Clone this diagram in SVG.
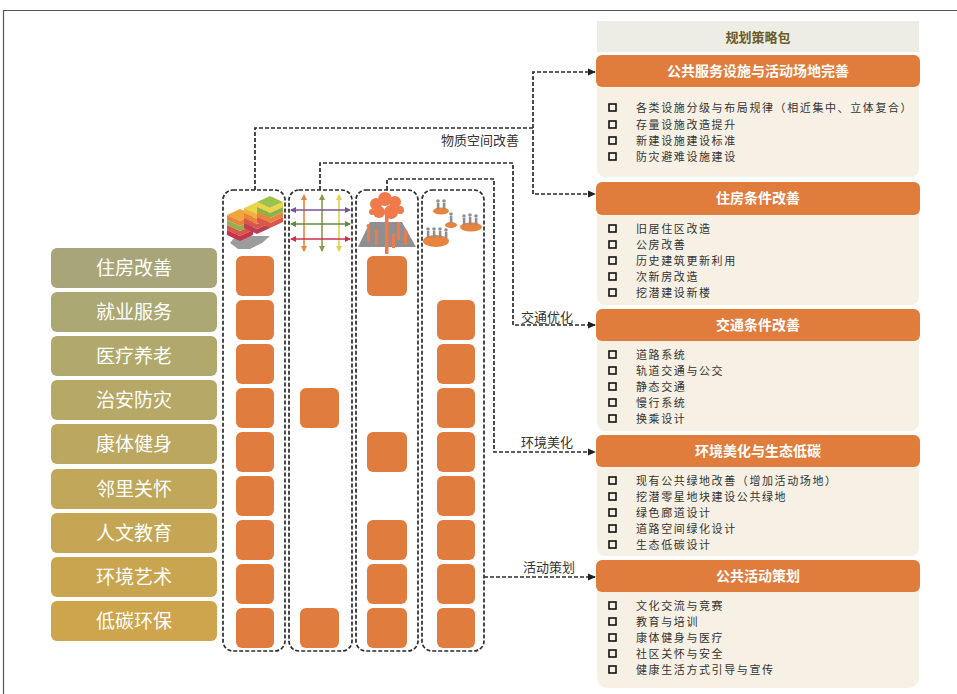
<svg xmlns="http://www.w3.org/2000/svg" width="957" height="694" viewBox="0 0 957 694">
  <defs>
    <marker id="arrow" markerWidth="8" markerHeight="8" refX="7" refY="4" orient="auto" markerUnits="userSpaceOnUse">
      <path d="M0,0.5 L8,4 L0,7.5 z" fill="#222"/>
    </marker>
    <marker id="ah-purple" markerWidth="6" markerHeight="6" refX="5" refY="3" orient="auto-start-reverse" markerUnits="userSpaceOnUse">
      <path d="M0,0 L6,3 L0,6 z" fill="#7b4f9a"/>
    </marker>
    <marker id="ah-green" markerWidth="6" markerHeight="6" refX="5" refY="3" orient="auto-start-reverse" markerUnits="userSpaceOnUse">
      <path d="M0,0 L6,3 L0,6 z" fill="#5e8a3c"/>
    </marker>
    <marker id="ah-red" markerWidth="6" markerHeight="6" refX="5" refY="3" orient="auto-start-reverse" markerUnits="userSpaceOnUse">
      <path d="M0,0 L6,3 L0,6 z" fill="#c8324a"/>
    </marker>
    <marker id="ah-orange" markerWidth="6" markerHeight="6" refX="5" refY="3" orient="auto-start-reverse" markerUnits="userSpaceOnUse">
      <path d="M0,0 L6,3 L0,6 z" fill="#e8843e"/>
    </marker>
    <marker id="ah-olive" markerWidth="6" markerHeight="6" refX="5" refY="3" orient="auto-start-reverse" markerUnits="userSpaceOnUse">
      <path d="M0,0 L6,3 L0,6 z" fill="#8a9a4a"/>
    </marker>
    <marker id="ah-yellow" markerWidth="6" markerHeight="6" refX="5" refY="3" orient="auto-start-reverse" markerUnits="userSpaceOnUse">
      <path d="M0,0 L6,3 L0,6 z" fill="#e3d14a"/>
    </marker>
  </defs>
  <style>
    text { font-family: "Noto Sans CJK SC", "Noto Sans", sans-serif; }
    .lbl { fill: #ffffff; font-size: 19px; text-anchor: middle; }
    .sq { fill: #e07c3e; }
    .col { fill: none; stroke: #2b2b2b; stroke-width: 1.7; stroke-dasharray: 4 2; }
    .conn { fill: none; stroke: #2b2b2b; stroke-width: 1.7; stroke-dasharray: 4 2; }
    .clbl { fill: #333; font-size: 13px; text-anchor: middle; }
    .hdr { fill: #e07d3d; }
    .body { fill: #f7f1e5; }
    .htxt { fill: #ffffff; font-size: 14px; font-weight: bold; text-anchor: middle; }
    .item { fill: #333; font-size: 11px; letter-spacing: 1.6px; }
    .cb { fill: none; stroke: #111; stroke-width: 1.6; }
  </style>

  <rect width="957" height="694" fill="#ffffff"/>
  <!-- frame -->
  <path d="M3.5,694 V10.5 H957" fill="none" stroke="#555" stroke-width="1.2"/>

  <!-- left labels -->
  <g id="labels">
    <g id="label-1"><rect x="51" y="248" width="166" height="40" rx="6" fill="#a8a679"/><text class="lbl" x="134" y="275">住房改善</text></g>
    <g id="label-2"><rect x="51" y="292" width="166" height="40" rx="6" fill="#aca873"/><text class="lbl" x="134" y="319">就业服务</text></g>
    <g id="label-3"><rect x="51" y="336" width="166" height="40" rx="6" fill="#b1a96c"/><text class="lbl" x="134" y="363">医疗养老</text></g>
    <g id="label-4"><rect x="51" y="380" width="166" height="40" rx="6" fill="#b6a866"/><text class="lbl" x="134" y="407">治安防灾</text></g>
    <g id="label-5"><rect x="51" y="424" width="166" height="40" rx="6" fill="#bba75f"/><text class="lbl" x="134" y="451">康体健身</text></g>
    <g id="label-6"><rect x="51" y="469" width="166" height="40" rx="6" fill="#c0a75a"/><text class="lbl" x="134" y="496">邻里关怀</text></g>
    <g id="label-7"><rect x="51" y="513" width="166" height="40" rx="6" fill="#c5a654"/><text class="lbl" x="134" y="540">人文教育</text></g>
    <g id="label-8"><rect x="51" y="557" width="166" height="40" rx="6" fill="#caa550"/><text class="lbl" x="134" y="584">环境艺术</text></g>
    <g id="label-9"><rect x="51" y="601" width="166" height="40" rx="6" fill="#cea44c"/><text class="lbl" x="134" y="628">低碳环保</text></g>
  </g>

  <!-- column 1: housing blocks -->
  <g id="col-housing">
    <rect class="col" x="223" y="190" width="62" height="461" rx="10"/>
    <!-- layered blocks icon -->
    <polygon points="236,236 270,236 262,243 250,249 238,249 230,243" fill="#9c9c9c"/>
    <g>
      <polygon points="227,215 240,209 253,215 240,221" fill="#f0a43a"/>
      <polygon points="227,215 240,221 253,215 253,220 240,226 227,220" fill="#e8843e"/>
      <polygon points="227,220 240,226 253,220 253,225 240,231 227,225" fill="#8fb04a"/>
      <polygon points="227,225 240,231 253,225 253,230 240,236 227,230" fill="#d9574a"/>
      <polygon points="227,230 240,236 253,230 253,235 240,241 227,235" fill="#c8324a"/>
    </g>
    <g>
      <polygon points="244,208 257,202 270,208 257,214" fill="#e9d54a"/>
      <polygon points="244,208 257,214 270,208 270,213 257,219 244,213" fill="#f0b03a"/>
      <polygon points="244,213 257,219 270,213 270,218 257,224 244,218" fill="#e8843e"/>
      <polygon points="244,218 257,224 270,218 270,223 257,229 244,223" fill="#d9574a"/>
      <polygon points="244,223 257,229 270,223 270,228 257,234 244,228" fill="#b84050"/>
    </g>
    <g>
      <polygon points="257,202 270,196 283,202 270,208" fill="#9cc24e"/>
      <polygon points="257,202 270,208 283,202 283,207 270,213 257,207" fill="#e9d54a"/>
      <polygon points="257,207 270,213 283,207 283,212 270,218 257,212" fill="#8fb04a"/>
      <polygon points="257,212 270,218 283,212 283,217 270,223 257,217" fill="#e8843e"/>
      <polygon points="257,217 270,223 283,217 283,222 270,228 257,222" fill="#d9574a"/>
    </g>
    <rect class="sq" x="236" y="256" width="38" height="40" rx="6"/>
    <rect class="sq" x="236" y="300" width="38" height="40" rx="6"/>
    <rect class="sq" x="236" y="344" width="38" height="40" rx="6"/>
    <rect class="sq" x="236" y="388" width="38" height="40" rx="6"/>
    <rect class="sq" x="236" y="432" width="38" height="40" rx="6"/>
    <rect class="sq" x="236" y="476" width="38" height="40" rx="6"/>
    <rect class="sq" x="236" y="520" width="38" height="40" rx="6"/>
    <rect class="sq" x="236" y="564" width="38" height="40" rx="6"/>
    <rect class="sq" x="236" y="608" width="38" height="40" rx="6"/>
  </g>

  <!-- column 2: traffic grid -->
  <g id="col-traffic">
    <rect class="col" x="289" y="190" width="63" height="461" rx="10"/>
    <line x1="304" y1="195" x2="304" y2="251" stroke="#e8843e" stroke-width="1.6" marker-start="url(#ah-orange)" marker-end="url(#ah-orange)"/>
    <line x1="322" y1="195" x2="322" y2="251" stroke="#8a9a4a" stroke-width="1.6" marker-start="url(#ah-olive)" marker-end="url(#ah-olive)"/>
    <line x1="339" y1="195" x2="339" y2="251" stroke="#e3d14a" stroke-width="1.6" marker-start="url(#ah-yellow)" marker-end="url(#ah-yellow)"/>
    <line x1="291" y1="210" x2="350" y2="210" stroke="#7b4f9a" stroke-width="1.6" marker-start="url(#ah-purple)" marker-end="url(#ah-purple)"/>
    <line x1="291" y1="224" x2="350" y2="224" stroke="#5e8a3c" stroke-width="1.6" marker-start="url(#ah-green)" marker-end="url(#ah-green)"/>
    <line x1="291" y1="239" x2="350" y2="239" stroke="#c8324a" stroke-width="1.6" marker-start="url(#ah-red)" marker-end="url(#ah-red)"/>
    <rect class="sq" x="300" y="388" width="39" height="40" rx="6"/>
    <rect class="sq" x="300" y="608" width="39" height="40" rx="6"/>
  </g>

  <!-- column 3: environment -->
  <g id="col-environment">
    <rect class="col" x="356" y="190" width="62" height="461" rx="10"/>
    <polygon points="370,222 402,222 416,247 358,247" fill="#8f8f8f"/>
    <g fill="#f07a4a">
      <circle cx="376" cy="204" r="6"/>
      <circle cx="385" cy="199" r="7"/>
      <circle cx="395" cy="202" r="6"/>
      <circle cx="400" cy="210" r="4"/>
      <circle cx="379" cy="212" r="6"/>
      <circle cx="391" cy="212" r="7"/>
      <circle cx="372" cy="212" r="3"/>
      <rect x="385" y="214" width="3.5" height="40"/>
      <rect x="367" y="228" width="3" height="14"/>
      <circle cx="368.5" cy="226" r="2"/>
      <rect x="375" y="233" width="3" height="12"/>
      <circle cx="376.5" cy="231" r="2"/>
      <rect x="397" y="226" width="3" height="14"/>
      <circle cx="398.5" cy="224" r="2"/>
      <rect x="404" y="234" width="3" height="10"/>
      <circle cx="405.5" cy="232" r="2"/>
      <rect x="392" y="238" width="3" height="10"/>
      <circle cx="393.5" cy="236" r="2"/>
    </g>
    <rect class="sq" x="367" y="256" width="40" height="40" rx="6"/>
    <rect class="sq" x="367" y="432" width="40" height="40" rx="6"/>
    <rect class="sq" x="367" y="520" width="40" height="40" rx="6"/>
    <rect class="sq" x="367" y="564" width="40" height="40" rx="6"/>
    <rect class="sq" x="367" y="608" width="40" height="40" rx="6"/>
  </g>

  <!-- column 4: community activity -->
  <g id="col-activity">
    <rect class="col" x="422" y="190" width="62" height="461" rx="10"/>
    <g fill="#e8843e">
      <ellipse cx="441" cy="211" rx="8" ry="3.5"/>
      <ellipse cx="451" cy="225" rx="6" ry="3"/>
      <ellipse cx="471" cy="227" rx="11" ry="4.5"/>
      <ellipse cx="436" cy="241" rx="13" ry="6"/>
    </g>
    <g fill="#8f8f8f">
      <circle cx="438" cy="201" r="1.8"/><rect x="436.8" y="203" width="2.6" height="6"/>
      <circle cx="444" cy="201" r="1.8"/><rect x="442.8" y="203" width="2.6" height="6"/>
      <circle cx="451" cy="214" r="1.8"/><rect x="449.8" y="216" width="2.6" height="7"/>
      <circle cx="464" cy="216" r="1.8"/><rect x="462.8" y="218" width="2.6" height="7"/>
      <circle cx="470" cy="215" r="1.8"/><rect x="468.8" y="217" width="2.6" height="8"/>
      <circle cx="476" cy="216" r="1.8"/><rect x="474.8" y="218" width="2.6" height="7"/>
      <circle cx="428" cy="229" r="1.8"/><rect x="426.8" y="231" width="2.6" height="7"/>
      <circle cx="434" cy="229" r="1.8"/><rect x="432.8" y="231" width="2.6" height="7"/>
      <circle cx="440" cy="229" r="1.8"/><rect x="438.8" y="231" width="2.6" height="7"/>
      <circle cx="446" cy="230" r="1.8"/><rect x="444.8" y="232" width="2.6" height="6"/>
    </g>
    <rect class="sq" x="437" y="300" width="38" height="40" rx="6"/>
    <rect class="sq" x="437" y="344" width="38" height="40" rx="6"/>
    <rect class="sq" x="437" y="388" width="38" height="40" rx="6"/>
    <rect class="sq" x="437" y="432" width="38" height="40" rx="6"/>
    <rect class="sq" x="437" y="476" width="38" height="40" rx="6"/>
    <rect class="sq" x="437" y="520" width="38" height="40" rx="6"/>
    <rect class="sq" x="437" y="564" width="38" height="40" rx="6"/>
    <rect class="sq" x="437" y="608" width="38" height="40" rx="6"/>
  </g>

  <!-- strategy package panel -->
  <g id="panel-title">
    <rect x="597" y="21" width="322" height="31" fill="#ededE5"/>
    <text x="758" y="42" font-size="13" font-weight="bold" fill="#6b5a2a" text-anchor="middle">规划策略包</text>
  </g>

  <g id="pkg-facilities">
    <rect class="body" x="597" y="76" width="322" height="101" rx="8"/>
    <rect class="hdr" x="596" y="55" width="324" height="32" rx="6"/>
    <text class="htxt" x="758" y="76">公共服务设施与活动场地完善</text>
    <rect class="cb" x="609" y="104" width="7" height="7"/><text class="item" x="636" y="112">各类设施分级与布局规律（相近集中、立体复合）</text>
    <rect class="cb" x="609" y="121" width="7" height="7"/><text class="item" x="636" y="129">存量设施改造提升</text>
    <rect class="cb" x="609" y="137" width="7" height="7"/><text class="item" x="636" y="145">新建设施建设标准</text>
    <rect class="cb" x="609" y="153" width="7" height="7"/><text class="item" x="636" y="161">防灾避难设施建设</text>
  </g>

  <g id="pkg-housing">
    <rect class="body" x="597" y="204" width="322" height="101" rx="8"/>
    <rect class="hdr" x="596" y="182" width="324" height="33" rx="6"/>
    <text class="htxt" x="758" y="203">住房条件改善</text>
    <rect class="cb" x="609" y="225" width="7" height="7"/><text class="item" x="636" y="233">旧居住区改造</text>
    <rect class="cb" x="609" y="241" width="7" height="7"/><text class="item" x="636" y="249">公房改善</text>
    <rect class="cb" x="609" y="257" width="7" height="7"/><text class="item" x="636" y="265">历史建筑更新利用</text>
    <rect class="cb" x="609" y="273" width="7" height="7"/><text class="item" x="636" y="281">次新房改造</text>
    <rect class="cb" x="609" y="289" width="7" height="7"/><text class="item" x="636" y="297">挖潜建设新楼</text>
  </g>

  <g id="pkg-traffic">
    <rect class="body" x="597" y="331" width="322" height="100" rx="8"/>
    <rect class="hdr" x="596" y="309" width="324" height="32" rx="6"/>
    <text class="htxt" x="758" y="330">交通条件改善</text>
    <rect class="cb" x="609" y="351" width="7" height="7"/><text class="item" x="636" y="359">道路系统</text>
    <rect class="cb" x="609" y="367" width="7" height="7"/><text class="item" x="636" y="375">轨道交通与公交</text>
    <rect class="cb" x="609" y="383" width="7" height="7"/><text class="item" x="636" y="391">静态交通</text>
    <rect class="cb" x="609" y="399" width="7" height="7"/><text class="item" x="636" y="407">慢行系统</text>
    <rect class="cb" x="609" y="415" width="7" height="7"/><text class="item" x="636" y="423">换乘设计</text>
  </g>

  <g id="pkg-environment">
    <rect class="body" x="597" y="457" width="322" height="99" rx="8"/>
    <rect class="hdr" x="596" y="435" width="324" height="32" rx="6"/>
    <text class="htxt" x="758" y="456">环境美化与生态低碳</text>
    <rect class="cb" x="609" y="477" width="7" height="7"/><text class="item" x="636" y="485">现有公共绿地改善（增加活动场地）</text>
    <rect class="cb" x="609" y="493" width="7" height="7"/><text class="item" x="636" y="501">挖潜零星地块建设公共绿地</text>
    <rect class="cb" x="609" y="509" width="7" height="7"/><text class="item" x="636" y="517">绿色廊道设计</text>
    <rect class="cb" x="609" y="525" width="7" height="7"/><text class="item" x="636" y="533">道路空间绿化设计</text>
    <rect class="cb" x="609" y="541" width="7" height="7"/><text class="item" x="636" y="549">生态低碳设计</text>
  </g>

  <g id="pkg-activity">
    <rect class="body" x="597" y="582" width="322" height="106" rx="10"/>
    <rect class="hdr" x="596" y="560" width="324" height="32" rx="6"/>
    <text class="htxt" x="758" y="581">公共活动策划</text>
    <rect class="cb" x="609" y="602" width="7" height="7"/><text class="item" x="636" y="610">文化交流与竞赛</text>
    <rect class="cb" x="609" y="618" width="7" height="7"/><text class="item" x="636" y="626">教育与培训</text>
    <rect class="cb" x="609" y="634" width="7" height="7"/><text class="item" x="636" y="642">康体健身与医疗</text>
    <rect class="cb" x="609" y="650" width="7" height="7"/><text class="item" x="636" y="658">社区关怀与安全</text>
    <rect class="cb" x="609" y="666" width="7" height="7"/><text class="item" x="636" y="674">健康生活方式引导与宣传</text>
  </g>

  <!-- connectors -->
  <g id="connectors">
    <path class="conn" d="M255,190 V128 H533 V194 H595" marker-end="url(#arrow)"/>
    <path class="conn" d="M533,128 V72 H595" marker-end="url(#arrow)"/>
    <path class="conn" d="M320,190 V163 H513 V325 H595" marker-end="url(#arrow)"/>
    <path class="conn" d="M387,190 V179 H494 V452 H595" marker-end="url(#arrow)"/>
    <path class="conn" d="M484,577 H595" marker-end="url(#arrow)"/>
    <text class="clbl" x="480" y="145">物质空间改善</text>
    <text class="clbl" x="547" y="322">交通优化</text>
    <text class="clbl" x="547" y="447">环境美化</text>
    <text class="clbl" x="549" y="572">活动策划</text>
  </g>
</svg>
